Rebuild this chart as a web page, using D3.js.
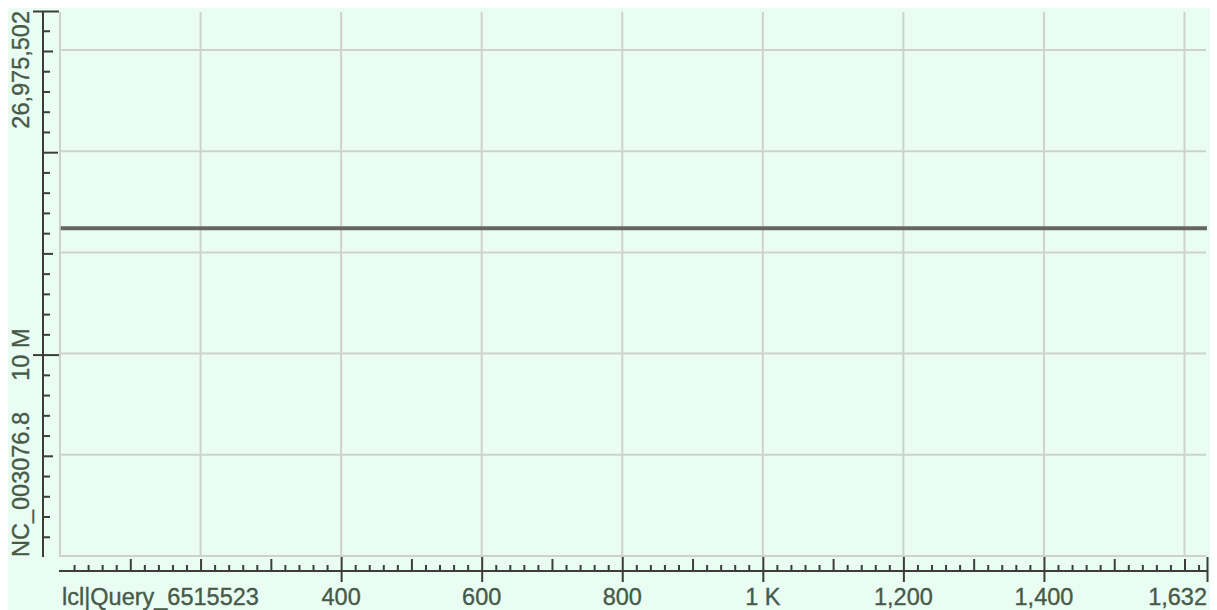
<!DOCTYPE html>
<html>
<head>
<meta charset="utf-8">
<script src="https://cdn.jsdelivr.net/npm/d3@7"></script>
<style>
  body { margin: 0; background: #fff; }
  text { font-family: "Liberation Sans", Arial, sans-serif; }
</style>
</head>
<body>
<div id="chart"></div>
<script>
// query positions / reference positions of the single alignment line
const queryPos = [1, 1632];
const refPos = [16240000, 16240000];

const xDomain = [0, 1632];
const yDomain = [0, 26975502];

const xLabelTicks = [400, 600, 800, 1000, 1200, 1400, 1632];
const yLabelTicks = [10000000, 26975502];
const xTitle = "lcl|Query_6515523";
const yTitle = "NC_003076.8";

const xFormat = d => d === 1000 ? "1 K" : d3.format(",")(d);
const yFormat = d => d === 10000000 ? "10 M" : d3.format(",")(d);

const width = 1217, height = 610;
const plotLeft = 60, plotRight = 1207, plotTop = 11, plotBottom = 557;
const fontSize = "23.5px";

const svg = d3.select("#chart").append("svg")
    .attr("width", width)
    .attr("height", height);

// mint background
svg.append("rect")
    .attr("x", 8).attr("y", 8)
    .attr("width", 1202).attr("height", height - 8)
    .attr("fill", "#eafdf2");

const x = d3.scaleLinear().domain(xDomain).range([plotLeft, plotRight]);
const y = d3.scaleLinear().domain(yDomain).range([plotBottom, plotTop]);

const gridColor = "#cfd1cf";
const axisColor = "#3c3c3c";
const textColor = "#465a49";

// grid lines
svg.append("g")
    .selectAll("line")
    .data(d3.range(0, 1632, 200))
    .enter().append("line")
    .attr("x1", d => x(d)).attr("x2", d => x(d))
    .attr("y1", y(yDomain[1]) + 1).attr("y2", plotBottom)
    .attr("stroke", gridColor).attr("stroke-width", 2);

svg.append("g")
    .selectAll("line")
    .data(d3.range(0, 26975502, 5000000))
    .enter().append("line")
    .attr("x1", plotLeft).attr("x2", x(1632) - 1)
    .attr("y1", d => y(d) - 1).attr("y2", d => y(d) - 1)
    .attr("stroke", gridColor).attr("stroke-width", 2);

// alignment line
const line = d3.line()
    .x(d => x(d[0]))
    .y(d => y(d[1]));

svg.append("path")
    .datum(d3.zip(queryPos, refPos))
    .attr("d", line)
    .attr("fill", "none")
    .attr("stroke", "#656565")
    .attr("stroke-width", 4);

// helper to style axis groups
function styleAxis(g) {
    g.select(".domain").remove();
    g.selectAll(".tick line").attr("stroke", axisColor).attr("stroke-width", 2);
    g.selectAll(".tick text").remove();
}

function styleText(t) {
    t.attr("font-size", fontSize)
        .attr("fill", textColor)
        .attr("stroke", textColor)
        .attr("stroke-width", 0.35);
}

// Y axis
const yAxisX = 43;
svg.append("line")
    .attr("x1", yAxisX).attr("x2", yAxisX)
    .attr("y1", plotTop).attr("y2", plotBottom)
    .attr("stroke", axisColor).attr("stroke-width", 2);

const yMinor = d3.range(1000000, 26975502, 1000000).filter(d => d % 5000000 !== 0);
const yMid = d3.range(5000000, 26975502, 10000000);
const yLong = [20000000];

[[yMinor, 7], [yMid, 10], [yLong, 15], [yLabelTicks, 16]].forEach(([vals, size]) => {
    svg.append("g")
        .attr("transform", `translate(${yAxisX},0)`)
        .call(d3.axisRight(y).tickValues(vals).tickSize(size))
        .call(styleAxis);
});
svg.append("g")
    .attr("transform", `translate(${yAxisX},0)`)
    .call(d3.axisLeft(y).tickValues(yLabelTicks).tickSize(10))
    .call(styleAxis);

svg.selectAll(".ylabel")
    .data(yLabelTicks)
    .enter().append("text")
    .attr("transform", d => `translate(29,${y(d)}) rotate(-90)`)
    .attr("text-anchor", d => d === yDomain[1] ? "end" : "middle")
    .call(styleText)
    .text(yFormat);

svg.append("text")
    .attr("transform", `translate(29,${plotBottom}) rotate(-90)`)
    .attr("text-anchor", "start")
    .call(styleText)
    .text(yTitle);

// X axis
const xAxisY = 571;
svg.append("line")
    .attr("x1", plotLeft - 1).attr("x2", plotRight + 1)
    .attr("y1", xAxisY).attr("y2", xAxisY)
    .attr("stroke", axisColor).attr("stroke-width", 2);

const xMinor = d3.range(20, 1632, 20).filter(d => d % 100 !== 0);
const xMid = d3.range(100, 1632, 100).filter(d => !xLabelTicks.includes(d));

[[xMinor, 6], [xMid, 12], [xLabelTicks, 14]].forEach(([vals, size]) => {
    svg.append("g")
        .attr("transform", `translate(0,${xAxisY})`)
        .call(d3.axisTop(x).tickValues(vals).tickSize(size))
        .call(styleAxis);
});
svg.append("g")
    .attr("transform", `translate(0,${xAxisY})`)
    .call(d3.axisBottom(x).tickValues(xLabelTicks).tickSize(11))
    .call(styleAxis);

svg.selectAll(".xlabel")
    .data(xLabelTicks)
    .enter().append("text")
    .attr("x", d => x(d))
    .attr("y", 605)
    .attr("text-anchor", d => d === xDomain[1] ? "end" : "middle")
    .call(styleText)
    .text(xFormat);

svg.append("text")
    .attr("x", 62)
    .attr("y", 605)
    .call(styleText)
    .text(xTitle);
</script>
</body>
</html>
